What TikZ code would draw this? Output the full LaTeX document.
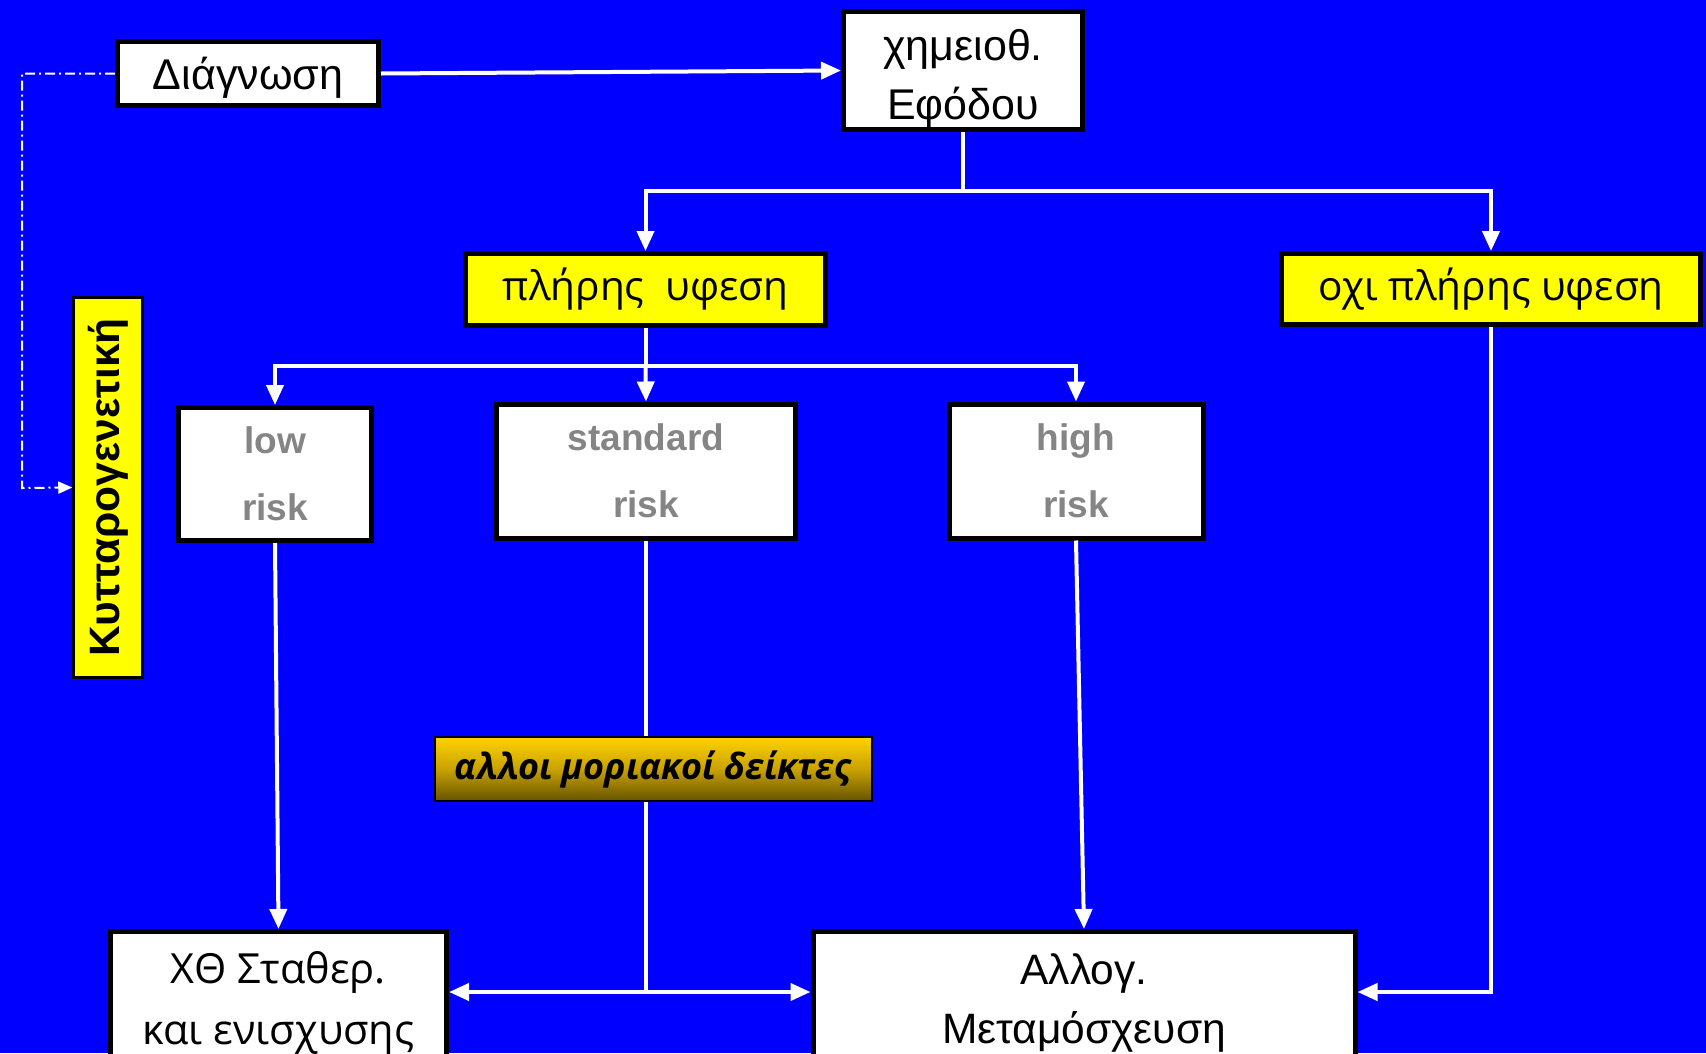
\documentclass[tikz,border=0pt]{standalone}
\usepackage{fontspec}
\setmainfont{Liberation Sans}
\newfontfamily\osans{Open Sans}
\usetikzlibrary{arrows.meta}
\definecolor{bgblue}{HTML}{0000FF}
\definecolor{ylw}{HTML}{FFFF00}
\definecolor{riskgray}{HTML}{858585}
\definecolor{goldtop}{HTML}{FFD300}
\definecolor{goldmid}{HTML}{C9A200}
\definecolor{goldbot}{HTML}{665300}
\begin{document}
\begin{tikzpicture}[x=1pt,y=-1pt,
  box/.style={draw=black, line width=5pt, fill=white, inner sep=0pt, align=center},
  ybox/.style={box, fill=ylw},
  bigtxt/.style={font=\fontsize{43}{59}\selectfont},
  osanstxt/.style={font=\osans\fontsize{40.5}{61}\selectfont},
  risktxt/.style={font=\bfseries\fontsize{37}{67}\selectfont, text=riskgray},
  line/.style={white, line width=4pt},
  conn/.style={line, -{Triangle[length=20pt,width=17pt]}},
  dd/.style={white, line width=2pt, dash pattern=on 10pt off 4pt on 2pt off 4pt, -{Triangle[length=14pt,width=12pt]}}
]
\clip (0,0) rectangle (1706,1053);
\fill[bgblue] (0,0) rectangle (1706,1053);

\node[box, bigtxt, minimum width=261, minimum height=64, text height=31pt, text depth=0pt] (diag) at (248,73.5) {Διάγνωση};
\node[box, minimum width=239, minimum height=118] (chemo) at (963,70.5) {};
\node[bigtxt, align=center, inner sep=0pt] (chemotxt) at (963,79) {χημειοθ.\\Εφόδου};
\node[ybox, osanstxt, minimum width=360, minimum height=72] (pliris) at (645.5,289.5) {πλήρης\ \ υφεση};
\node[ybox, osanstxt, minimum width=419, minimum height=71] (oxi) at (1491,289) {οχι πλήρης υφεση};
\node[box, risktxt, minimum width=193, minimum height=133] (low) at (275,474) {low\\risk};
\node[box, risktxt, minimum width=299, minimum height=134] (standard) at (646,471) {standard\\risk};
\node[box, risktxt, minimum width=254, minimum height=134] (high) at (1076,471) {high\\risk};
\node[ybox, line width=2.5pt, rotate=90, minimum width=380, minimum height=69,
      font=\bfseries\fontsize{42.5}{44}\selectfont] (kytt) at (108,487.5) {Κυτταρογενετική};
\node[box, osanstxt, font=\osans\fontsize{41.5}{61}\selectfont, minimum width=336, minimum height=143] (xth) at (278.5,1003) {ΧΘ Σταθερ.\\και ενισχυσης};
\node[box, bigtxt, font=\fontsize{42.5}{59}\selectfont, minimum width=542, minimum height=143] (allog) at (1084,1003) {Αλλογ.\\Μεταμόσχευση};

% connectors
\draw[conn] (diag.east) -- (chemo.west);
\coordinate (s1) at (963,190.5);
\draw[line] (chemo.south) -- (s1);
\draw[conn] (s1) -| (pliris.north);
\draw[conn] (s1) -| (oxi.north);

\coordinate (s2) at (645.5,366);
\draw[line] (pliris.south) -- (s2);
\draw[conn] (s2) -| (low.north);
\draw[conn] (s2) -| (high.north);
\draw[conn] (s2) -- (standard.north);

\draw[conn] (low.south) -- (xth.north);
\draw[conn] (high.south) -- (allog.north);

\coordinate (s3) at (646,992);
\draw[line] (standard.south) -- (s3);
\draw[conn] (s3) -- (xth.east |- s3);
\draw[conn] (s3) -- (allog.west |- s3);

\coordinate (s4) at (oxi.south |- s3);
\draw[conn] (oxi.south) -- (s4) -- (allog.east |- s4);

\coordinate (d1) at (22,73.5);
\coordinate (d2) at (22,488);
\draw[dd] (diag.west) -- (d1) -- (d2) -- (kytt.north);

\node[draw=black, line width=2pt, inner sep=0pt, minimum width=437, minimum height=64,
      top color=goldtop, bottom color=goldbot, middle color=goldmid,
      font=\osans\bfseries\itshape\fontsize{36}{40}\selectfont] (allo) at (653,769) {αλλοι μοριακοί δείκτες};
\end{tikzpicture}
\end{document}
